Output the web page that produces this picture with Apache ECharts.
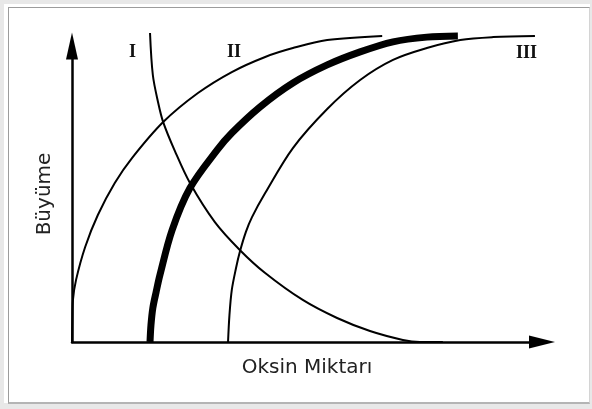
<!DOCTYPE html>
<html>
<head>
<meta charset="utf-8">
<script src="https://cdn.jsdelivr.net/npm/echarts@6/dist/echarts.min.js"></script>
<style>
  html, body { margin: 0; padding: 0; background: #e8e8e8; }
  #paper { position: absolute; left: 4px; top: 4px; width: 586px; height: 399px; background: #fff; }
  #frame {
    position: absolute; left: 8px; top: 7px; width: 580px; height: 394px;
    border-top: 1px solid #9c9c9c; border-left: 1px solid #9c9c9c;
    border-bottom: 2px solid #b4b4b4; border-right: 1px solid #d4d4d4;
  }
  #main { position: absolute; left: 0; top: 0; width: 592px; height: 409px; }
</style>
</head>
<body>
<div id="paper"></div>
<div id="frame"></div>
<div id="main"></div>
<script>
// values, x = auxin amount, y = growth (0..100 of the axes)
const curveI = [
  [0, 0], [0.06, 7.4], [0.2, 14.2], [0.85, 20.9], [2.8, 32.1], [5.5, 42.9],
  [9.1, 53.7], [12.8, 62.2], [19.4, 74.3], [26.8, 84.1], [34.0, 91.2],
  [41.1, 96.3], [47.0, 99.3], [54.3, 102.0], [66.0, 103.4]
]
const curveII = [
  [16.6, 0], [16.8, 5.7], [17.2, 11.5], [17.9, 16.9], [18.7, 22.6], [21.3, 37.8],
  [25.1, 52.0], [30.9, 64.9], [34.0, 70.6], [40.0, 79.4], [47.0, 87.5],
  [54.3, 93.6], [61.3, 98.0], [68.3, 101.4], [75.5, 103.0], [82.1, 103.4]
]
const curveIII = [
  [33.2, 0], [33.5, 9.1], [34.0, 17.6], [34.9, 25.0], [35.7, 30.4], [37.0, 37.2],
  [38.3, 42.2], [41.1, 50.3], [47.0, 65.5], [54.3, 78.7], [61.3, 88.5],
  [68.3, 95.3], [75.5, 99.3], [82.6, 102.0], [89.6, 103.0], [98.5, 103.4]
]
const curveFalling = [
  [16.6, 104.4], [17.2, 90.2], [18.3, 81.1], [19.4, 74.3], [21.9, 64.5],
  [25.1, 53.7], [30.4, 40.5], [35.7, 31.1], [41.1, 23.3], [49.1, 14.2],
  [56.4, 8.1], [63.4, 3.7], [70.4, 0.7], [74.0, 0], [78.9, 0]
]
const curveNames = ['I', 'II', 'III']
const xName = 'Oksin Miktarı'
const yName = 'Büyüme'

const chart = echarts.init(document.getElementById('main'))

const lineSeries = (data, width) => ({
  type: 'line',
  data: data,
  showSymbol: false,
  smooth: 0.33,
  clip: false,
  silent: true,
  lineStyle: { color: '#000', width: width }
})

const axisBase = {
  type: 'value',
  min: 0,
  max: 100,
  nameLocation: 'middle',
  nameTextStyle: { fontFamily: 'DejaVu Sans', fontSize: 20, color: '#222' },
  axisTick: { show: false },
  axisLabel: { show: false },
  splitLine: { show: false }
}

const option = {
  animation: false,
  grid: { left: 72, right: 50, top: 46, bottom: 67 },
  xAxis: Object.assign({}, axisBase, {
    name: xName,
    nameGap: 16,
    axisLine: { symbol: ['none', 'triangle'], symbolSize: [13, 26], lineStyle: { color: '#000', width: 2.5 } }
  }),
  yAxis: Object.assign({}, axisBase, {
    name: yName,
    nameGap: 17,
    axisLine: { symbol: ['none', 'triangle'], symbolSize: [12, 27], lineStyle: { color: '#000', width: 2.5 } }
  }),
  graphic: [
    { type: 'text', left: 129, top: 43, style: { text: curveNames[0], font: 'bold 18px "Liberation Serif"', fill: '#111' } },
    { type: 'text', left: 227, top: 43, style: { text: curveNames[1], font: 'bold 18px "Liberation Serif"', fill: '#111' } },
    { type: 'text', left: 516, top: 44, style: { text: curveNames[2], font: 'bold 18px "Liberation Serif"', fill: '#111' } }
  ],
  series: [
    lineSeries(curveI, 2),
    lineSeries(curveII, 7),
    lineSeries(curveIII, 2),
    lineSeries(curveFalling, 2)
  ]
}

chart.setOption(option)
</script>
</body>
</html>
